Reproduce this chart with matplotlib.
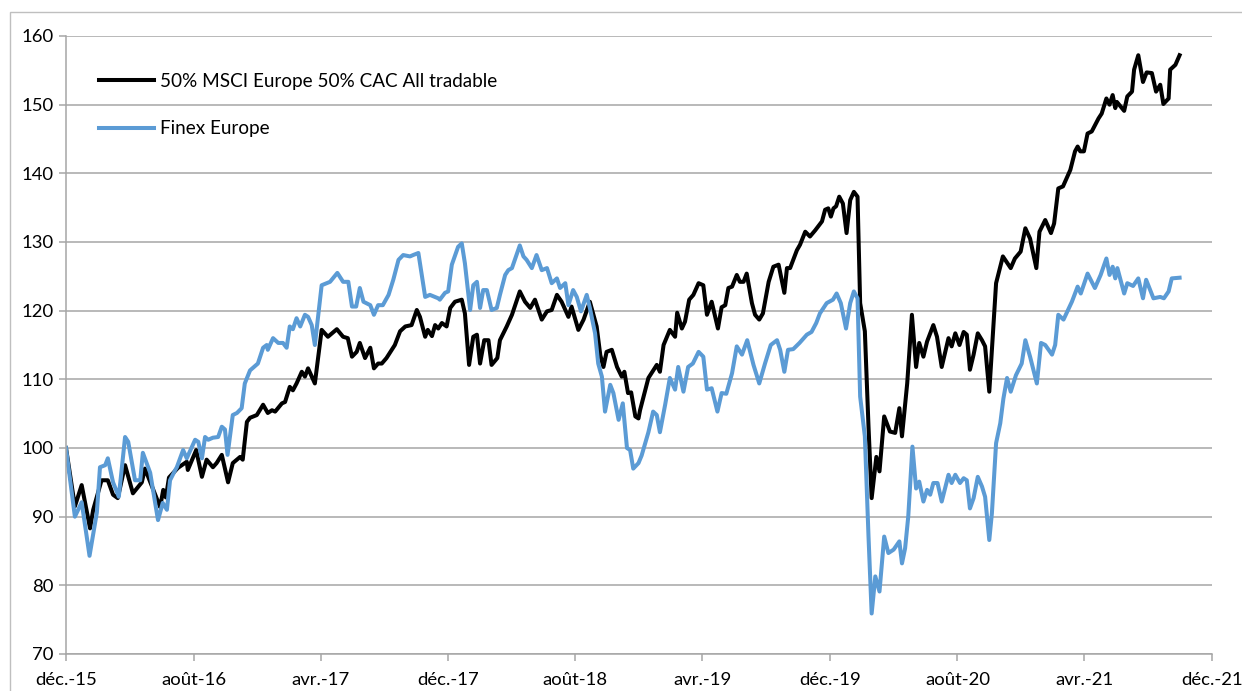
import pandas as pd
import matplotlib
matplotlib.use("Agg")
import matplotlib.pyplot as plt

plt.rcParams['font.family'] = ['Lato', 'DejaVu Sans']

start = pd.Timestamp('2015-12-01')

# days since start / index level
msci_days = [0, 17, 30, 46, 52, 68, 80, 90, 99, 113, 128, 145, 151, 180, 186, 191, 197, 214,
             231, 233, 249, 260, 269, 281, 288, 298, 310, 319, 333, 338, 346, 352, 365, 377,
             386, 394, 400, 413, 419, 428, 434, 441, 451, 457, 463, 476, 489, 501, 518, 530,
             539, 547, 556, 562, 572, 582, 589, 597, 604, 613, 629, 639, 649, 661, 671, 677,
             687, 692, 700, 706, 712, 719, 728, 735, 744, 757, 763, 771, 779, 786, 792, 800,
             808, 814, 825, 830, 843, 853, 868, 878, 888, 897, 910, 920, 929, 939, 948, 961,
             967, 980, 990, 1002, 1015, 1022, 1028, 1034, 1044, 1054, 1063, 1068, 1075, 1081,
             1089, 1095, 1098, 1114, 1130, 1136, 1143, 1155, 1165, 1169, 1178, 1184, 1192,
             1200, 1210, 1219, 1226, 1235, 1247, 1254, 1261, 1267, 1274, 1283, 1289, 1296,
             1302, 1312, 1318, 1326, 1333, 1344, 1353, 1363, 1374, 1379, 1385, 1398, 1404,
             1414, 1423, 1433, 1446, 1452, 1458, 1463, 1468, 1473, 1479, 1486, 1493, 1500,
             1507, 1514, 1519, 1528, 1535, 1541, 1550, 1556, 1565, 1576, 1586, 1594, 1599,
             1609, 1618, 1626, 1632, 1640, 1647, 1659, 1666, 1675, 1688, 1694, 1701, 1709,
             1717, 1723, 1729, 1736, 1744, 1752, 1758, 1766, 1779, 1792, 1807, 1815, 1826,
             1835, 1844, 1856, 1862, 1873, 1884, 1890, 1898, 1907, 1921, 1930, 1935, 1940,
             1947, 1954, 1962, 1975, 1981, 1990, 1996, 2002, 2007, 2010, 2024, 2030, 2039,
             2043, 2051, 2060, 2067, 2077, 2085, 2093, 2099, 2109, 2112, 2122, 2130]
msci_vals = [100, 91.5, 94.6, 88.3, 91, 95.3, 95.3, 93.2, 92.7, 97.5, 93.4, 95, 97, 91.4, 93.9,
             92.8, 95.7, 97.1, 98, 96.8, 99.7, 95.8, 98.3, 97.2, 97.8, 99, 95, 97.8, 98.7,
             98.3, 103.8, 104.4, 104.8, 106.3, 105.1, 105.5, 105.3, 106.5, 106.7, 108.9,
             108.4, 109.4, 111.1, 110.4, 111.6, 109.4, 117.2, 116.2, 117.3, 116.2, 116,
             113.3, 114, 115.3, 113.1, 114.6, 111.6, 112.3, 112.3, 113.1, 115, 117, 117.7,
             117.9, 120.1, 119.1, 116.2, 117.2, 116.3, 117.9, 117.4, 118.2, 117.7, 120.4,
             121.3, 121.6, 119.6, 112.1, 116.2, 116.5, 112.3, 115.7, 115.7, 112.1, 113.1,
             115.7, 117.7, 119.4, 122.8, 121.3, 120.4, 121.6, 118.7, 119.9, 120.1, 122.3,
             121.3, 119.1, 120.6, 117.2, 118.7, 121.3, 117.7, 113.5, 111.8, 114, 114.3,
             111.8, 110.4, 111.1, 108, 108.1, 104.6, 104.3, 105.5, 110.2, 112.1, 111.1, 115,
             117.2, 116.2, 119.7, 117.4, 118.4, 121.6, 122.3, 124, 123.7, 119.4, 121.3,
             117.4, 120.5, 120.8, 123.3, 123.5, 125.2, 124.2, 124.2, 125.4, 121.1, 119.4,
             118.7, 119.6, 124.2, 126.4, 126.7, 122.6, 126.2, 126.2, 128.8, 129.6, 131.5,
             130.8, 131.7, 133, 134.7, 134.9, 133.7, 134.9, 135.2, 136.6, 135.6, 131.3,
             136.1, 137.3, 136.6, 121.1, 117, 103.1, 92.7, 98.7, 96.6, 104.6, 102.4, 102.2,
             105.8, 101.7, 109.4, 119.4, 111.8, 115.3, 113.3, 115.5, 117.9, 116.2, 111.8,
             116, 114.8, 116.7, 115, 116.9, 116.5, 111.4, 113.6, 116.7, 115.7, 114.8, 108.2,
             124, 127.9, 126.2, 127.6, 128.6, 132, 130.5, 126.2, 131.5, 133.2, 131.3, 132.7,
             137.8, 138.1, 140.5, 143.2, 143.9, 143.2, 143.2, 145.8, 146.1, 148, 148.7,
             150.9, 150, 151.4, 149.5, 150.4, 149.1, 151.2, 151.9, 155.1, 157.2, 153.3,
             154.7, 154.6, 151.9, 152.9, 150.1, 150.9, 155.1, 155.8, 157.2]

finex_days = [0, 17, 30, 45, 59, 65, 75, 80, 90, 101, 113, 119, 132, 142, 147, 161, 176, 185,
              193, 199, 209, 212, 224, 231, 247, 253, 260, 266, 272, 281, 291, 298, 304, 309,
              319, 327, 336, 342, 352, 367, 377, 384, 386, 396, 406, 415, 422, 428, 434, 441,
              448, 457, 463, 470, 476, 489, 505, 519, 530, 540, 547, 555, 562, 569, 582, 589,
              597, 606, 617, 626, 636, 645, 658, 664, 674, 687, 696, 712, 715, 725, 731, 738,
              750, 757, 763, 773, 779, 786, 792, 798, 805, 814, 824, 830, 840, 846, 853, 868,
              875, 881, 891, 900, 910, 920, 929, 939, 945, 955, 961, 970, 977, 985, 996, 1002,
              1012, 1018, 1025, 1031, 1041, 1047, 1057, 1065, 1073, 1079, 1085, 1095, 1101,
              1114, 1123, 1130, 1136, 1146, 1155, 1165, 1171, 1181, 1190, 1199, 1210, 1219,
              1226, 1235, 1246, 1254, 1263, 1274, 1283, 1293, 1303, 1315, 1326, 1337, 1348,
              1360, 1366, 1374, 1381, 1391, 1403, 1417, 1426, 1435, 1442, 1455, 1467, 1474,
              1482, 1492, 1500, 1507, 1514, 1519, 1528, 1535, 1541, 1548, 1556, 1565, 1573,
              1583, 1594, 1599, 1605, 1611, 1619, 1626, 1632, 1640, 1647, 1653, 1659, 1667,
              1675, 1688, 1694, 1701, 1710, 1717, 1723, 1729, 1736, 1744, 1752, 1758, 1766,
              1771, 1779, 1787, 1793, 1800, 1807, 1817, 1828, 1835, 1844, 1857, 1865, 1873,
              1886, 1892, 1898, 1908, 1924, 1935, 1941, 1954, 1968, 1979, 1990, 1996, 2002,
              2007, 2011, 2024, 2030, 2041, 2051, 2060, 2066, 2080, 2093, 2100, 2109, 2115,
              2130]
finex_vals = [100, 90, 92.1, 84.3, 90.6, 97.2, 97.5, 98.5, 95, 92.9, 101.6, 100.9, 95.3, 95.3,
              99.3, 96.4, 89.5, 92, 91, 95.3, 96.8, 97.2, 99.7, 98.5, 101.2, 100.9, 98.5,
              101.6, 101.2, 101.5, 101.6, 103.1, 102.7, 99, 104.8, 105.1, 105.8, 109.4, 111.3,
              112.3, 114.6, 115, 114.3, 116, 115.3, 115.3, 114.6, 117.7, 117.3, 118.9, 117.7,
              119.4, 119.1, 117.9, 115, 123.7, 124.2, 125.5, 124.2, 124.2, 120.6, 120.6,
              123.3, 121.3, 120.8, 119.4, 120.8, 120.8, 122.3, 124.5, 127.4, 128.1, 127.9,
              128.1, 128.4, 122, 122.3, 121.8, 121.6, 122.6, 122.8, 126.7, 129.3, 129.8,
              126.9, 120.1, 123.7, 124.2, 120.4, 123, 123, 120.1, 120.4, 122.3, 125.2, 125.9,
              126.2, 129.5, 127.9, 127.4, 126.2, 128.1, 125.9, 126.2, 124, 124.7, 123.3, 124,
              120.8, 123, 122, 119.9, 122.3, 120.4, 116.7, 112.3, 110.4, 105.3, 109.2, 108,
              104.1, 106.5, 100, 99.7, 97, 97.8, 98.9, 102.3, 105.3, 104.8, 102.3, 106.3,
              110.2, 108.5, 111.8, 108.2, 111.8, 112.3, 114, 113.3, 108.5, 108.7, 105.3, 108,
              107.9, 110.9, 114.8, 113.6, 115.7, 112.1, 109.4, 112.3, 115, 115.7, 114.3,
              111.1, 114.3, 114.4, 115.3, 116.5, 116.9, 118.2, 119.6, 121.1, 121.6, 122.5,
              121.1, 117.4, 121.1, 122.8, 121.8, 107.5, 101.7, 87.1, 75.9, 81.3, 79.1, 87.1,
              84.7, 85.2, 86.4, 83.2, 85.4, 90, 100.2, 94.1, 95.1, 92.2, 93.9, 93.2, 94.9,
              94.9, 92.2, 96.1, 94.9, 96.1, 94.9, 95.6, 95.3, 91.2, 92.7, 95.8, 94.4, 92.9,
              86.6, 90.5, 100.7, 103.6, 107.2, 110.2, 108.2, 110.6, 112.3, 115.7, 113.3,
              109.4, 115.3, 115, 113.6, 115, 119.4, 118.7, 121.3, 123.5, 122.5, 125.4, 123.3,
              125.2, 127.6, 125.2, 126.4, 124.7, 126.2, 122.5, 124, 123.6, 124.7, 121.8,
              124.5, 121.8, 122, 121.8, 122.8, 124.7, 124.8]

tick_dates = ['2015-12-01', '2016-08-01', '2017-04-01', '2017-12-01', '2018-08-01',
              '2019-04-01', '2019-12-01', '2020-08-01', '2021-04-01', '2021-12-01']
tick_labels = ['déc.-15', 'août-16', 'avr.-17', 'déc.-17', 'août-18',
               'avr.-19', 'déc.-19', 'août-20', 'avr.-21', 'déc.-21']

msci_x = start + pd.to_timedelta(msci_days, unit='D')
finex_x = start + pd.to_timedelta(finex_days, unit='D')

W, H = 1242, 691
fig = plt.figure(figsize=(W / 100, H / 100), dpi=100)
ax = fig.add_axes([66 / W, (H - 654) / H, 1146 / W, 618 / H])

ax.plot(msci_x, msci_vals, color='black', lw=2.9, solid_joinstyle='round',
        label='50% MSCI Europe 50% CAC All tradable')
ax.plot(finex_x, finex_vals, color='#5B9BD5', lw=2.9, solid_joinstyle='round',
        label='Finex Europe')

ax.set_ylim(70, 160)
ax.set_yticks(range(70, 161, 10))
ax.set_xlim(pd.Timestamp(tick_dates[0]), pd.Timestamp(tick_dates[-1]))
ax.set_xticks(pd.to_datetime(tick_dates))
ax.set_xticklabels(tick_labels)

ax.grid(axis='y', color='#a6a6a6', lw=1.1)
ax.set_axisbelow(True)
for s in ['top', 'right']:
    ax.spines[s].set_visible(False)
for s in ['left', 'bottom']:
    ax.spines[s].set_color('#a6a6a6')
    ax.spines[s].set_linewidth(1.1)
ax.tick_params(axis='both', colors='#a6a6a6', labelcolor='black', labelsize=13.3,
               length=5, width=1.1, direction='out')
ax.tick_params(axis='y', pad=4)
ax.tick_params(axis='x', pad=8)

ax.legend(loc='upper left', bbox_to_anchor=(0.029, 0.94), frameon=False,
          fontsize=13.6, handlelength=2.9, handletextpad=0.3, labelspacing=1.6,
          borderpad=0, borderaxespad=0)

# chart area border (Excel style)
fig.add_artist(plt.Rectangle((10 / W, -0.1), 1.2, 1 - 12 / H + 0.1, transform=fig.transFigure,
                             fill=False, edgecolor='#bfbfbf', lw=1))

fig.savefig('out.png', dpi=100)
